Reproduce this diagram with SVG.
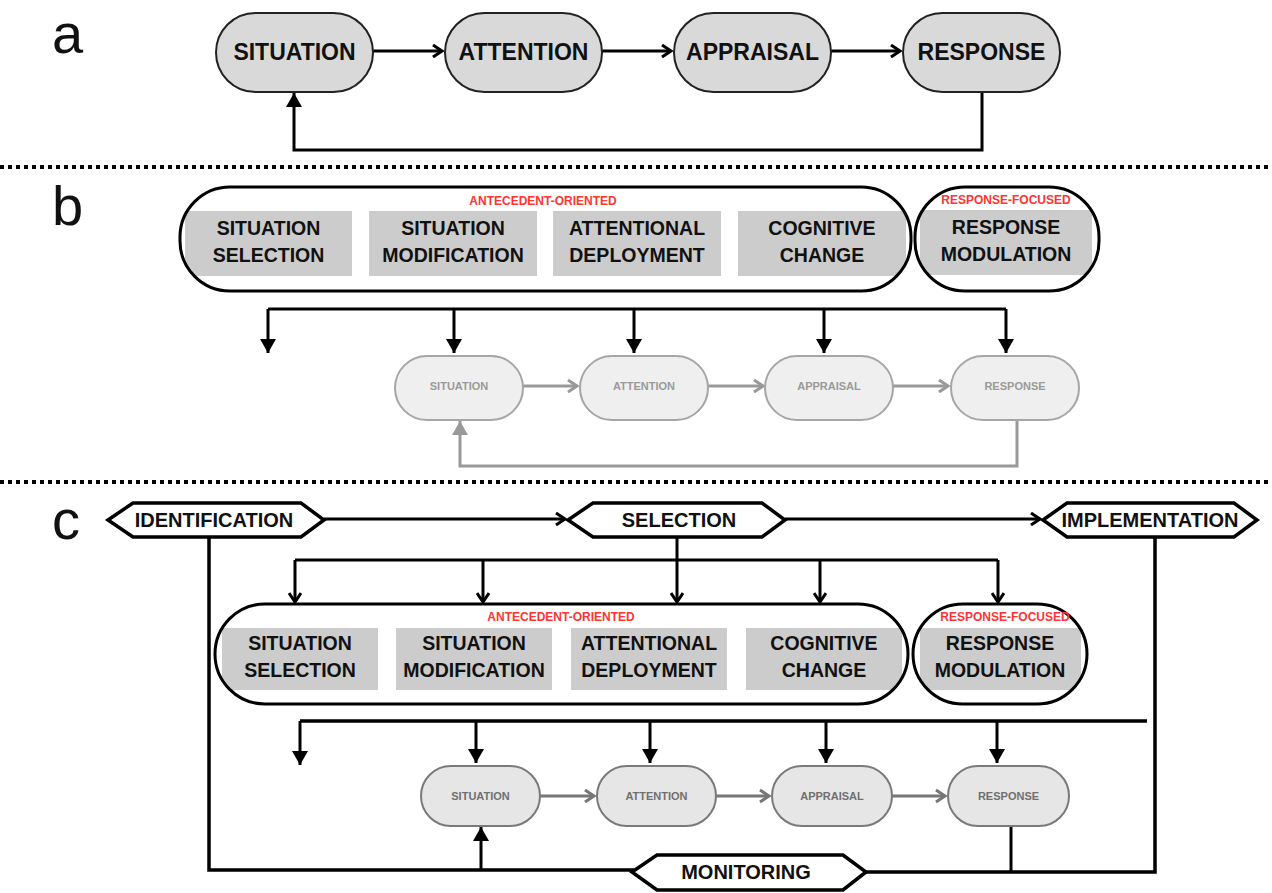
<svg xmlns="http://www.w3.org/2000/svg" width="1272" height="893" viewBox="0 0 1272 893">
  <style>
    text { font-family: "Liberation Sans", Arial, sans-serif; }
    .panel { font-size: 56px; fill: #111; }
    .nodeA { fill: #d9d9d9; stroke: #222; stroke-width: 2; }
    .tA { font-size: 23px; font-weight: bold; fill: #111; text-anchor: middle; }
    .frame { fill: none; stroke: #000; stroke-width: 3; }
    .box { fill: #cccccc; }
    .tBox { font-size: 19.5px; font-weight: bold; fill: #111; text-anchor: middle; }
    .red { font-size: 12px; font-weight: bold; fill: #ff3333; text-anchor: middle; }
    .nodeB { fill: #efefef; stroke: #a6a6a6; stroke-width: 2; }
    .tB { font-size: 11px; font-weight: bold; fill: #9a9a9a; text-anchor: middle; }
    .nodeC { fill: #e6e6e6; stroke: #7a7a7a; stroke-width: 2; }
    .tC { font-size: 11px; font-weight: bold; fill: #707070; text-anchor: middle; }
    .hex { fill: #fff; stroke: #000; stroke-width: 3.5; stroke-linejoin: miter; }
    .tHex { font-size: 20px; font-weight: bold; fill: #111; text-anchor: middle; }
    .wire { fill: none; stroke: #000; stroke-width: 3; }
    .wireG { fill: none; stroke: #999; stroke-width: 3; }
    .wireC { fill: none; stroke: #777; stroke-width: 3; }
    .sep { stroke: #000; stroke-width: 4; stroke-dasharray: 4 4; }
  </style>
  <defs>
    <marker id="chev" markerUnits="userSpaceOnUse" viewBox="0 0 12 14" refX="10" refY="7" markerWidth="12" markerHeight="14" orient="auto">
      <path d="M1,1 L10,7 L1,13" fill="none" stroke="#000" stroke-width="3"/>
    </marker>
    <marker id="tri" markerUnits="userSpaceOnUse" viewBox="0 0 14 16" refX="14" refY="8" markerWidth="14" markerHeight="16" orient="auto">
      <path d="M0,0 L14,8 L0,16 z" fill="#000"/>
    </marker>
    <marker id="chevG" markerUnits="userSpaceOnUse" viewBox="0 0 12 14" refX="10" refY="7" markerWidth="12" markerHeight="14" orient="auto">
      <path d="M1,1 L10,7 L1,13" fill="none" stroke="#999" stroke-width="3"/>
    </marker>
    <marker id="triG" markerUnits="userSpaceOnUse" viewBox="0 0 14 16" refX="14" refY="8" markerWidth="14" markerHeight="16" orient="auto">
      <path d="M0,0 L14,8 L0,16 z" fill="#999"/>
    </marker>
    <marker id="chevC" markerUnits="userSpaceOnUse" viewBox="0 0 12 14" refX="10" refY="7" markerWidth="12" markerHeight="14" orient="auto">
      <path d="M1,1 L10,7 L1,13" fill="none" stroke="#777" stroke-width="3"/>
    </marker>
    <clipPath id="clipB1"><rect x="180" y="187" width="731" height="104" rx="50"/></clipPath>
    <clipPath id="clipB2"><rect x="915" y="187" width="184" height="104" rx="50"/></clipPath>
    <clipPath id="clipC1"><rect x="215" y="604" width="693" height="100" rx="50"/></clipPath>
    <clipPath id="clipC2"><rect x="913" y="604" width="174" height="100" rx="50"/></clipPath>
  </defs>

  <!-- panel letters and separators -->
  <g id="labels">
    <text class="panel" x="52" y="53">a</text>
    <text class="panel" x="52" y="225">b</text>
    <text class="panel" x="52" y="539">c</text>
    <line class="sep" x1="0" y1="167" x2="1272" y2="167"/>
    <line class="sep" x1="0" y1="482" x2="1272" y2="482"/>
  </g>

  <!-- connectors -->
  <g id="connectors">
    <!-- a -->
    <path class="wire" d="M373,51 H442" marker-end="url(#chev)"/>
    <path class="wire" d="M602,51 H671" marker-end="url(#chev)"/>
    <path class="wire" d="M831,51 H900" marker-end="url(#chev)"/>
    <path class="wire" d="M982,92 V150 H294 V93" marker-end="url(#tri)"/>
    <!-- b -->
    <path class="wire" d="M268,309 H1006"/>
    <path class="wire" d="M268,309 V353" marker-end="url(#tri)"/>
    <path class="wire" d="M454,309 V353" marker-end="url(#tri)"/>
    <path class="wire" d="M634,309 V353" marker-end="url(#tri)"/>
    <path class="wire" d="M824,309 V353" marker-end="url(#tri)"/>
    <path class="wire" d="M1006,309 V353" marker-end="url(#tri)"/>
    <path class="wireG" d="M523,386 H577" marker-end="url(#chevG)"/>
    <path class="wireG" d="M708,386 H763" marker-end="url(#chevG)"/>
    <path class="wireG" d="M893,386 H948" marker-end="url(#chevG)"/>
    <path class="wireG" d="M1017,420 V466 H460 V421" marker-end="url(#triG)"/>
    <!-- c -->
    <path class="wire" d="M324,519 H565" marker-end="url(#chev)"/>
    <path class="wire" d="M785,519 H1040" marker-end="url(#chev)"/>
    <path class="wire" d="M677,537 V602" marker-end="url(#chev)"/>
    <path class="wire" d="M295,560 H998"/>
    <path class="wire" d="M295,560 V602" marker-end="url(#chev)"/>
    <path class="wire" d="M483,560 V602" marker-end="url(#chev)"/>
    <path class="wire" d="M820,560 V602" marker-end="url(#chev)"/>
    <path class="wire" d="M998,560 V602" marker-end="url(#chev)"/>
    <path class="wire" d="M300,721 H1147" style="stroke-width:3.5"/>
    <path class="wire" d="M300,721 V765" marker-end="url(#tri)"/>
    <path class="wire" d="M476,721 V763" marker-end="url(#tri)"/>
    <path class="wire" d="M650,721 V763" marker-end="url(#tri)"/>
    <path class="wire" d="M826,721 V763" marker-end="url(#tri)"/>
    <path class="wire" d="M997,721 V763" marker-end="url(#tri)"/>
    <path class="wireC" d="M540,796 H594" marker-end="url(#chevC)"/>
    <path class="wireC" d="M716,796 H769" marker-end="url(#chevC)"/>
    <path class="wireC" d="M892,796 H945" marker-end="url(#chevC)"/>
    <path class="wire" d="M209,537 V870 H634" style="stroke-width:3.5"/>
    <path class="wire" d="M866,872 H1155 V537" style="stroke-width:3.5"/>
    <path class="wire" d="M1011,826 V872"/>
    <path class="wire" d="M481,870 V827" marker-end="url(#tri)"/>
  </g>

  <!-- panel a: process model -->
  <g id="a-situation"><rect class="nodeA" x="216" y="13" width="157" height="79" rx="39.5"/><text class="tA" x="294.5" y="59.5">SITUATION</text></g>
  <g id="a-attention"><rect class="nodeA" x="445" y="13" width="157" height="79" rx="39.5"/><text class="tA" x="523.5" y="59.5">ATTENTION</text></g>
  <g id="a-appraisal"><rect class="nodeA" x="674" y="13" width="157" height="79" rx="39.5"/><text class="tA" x="752.5" y="59.5">APPRAISAL</text></g>
  <g id="a-response"><rect class="nodeA" x="903" y="13" width="157" height="79" rx="39.5"/><text class="tA" x="981.5" y="59.5">RESPONSE</text></g>

  <!-- panel b: regulation families -->
  <g id="b-antecedent">
    <g clip-path="url(#clipB1)">
      <rect class="box" x="185" y="211" width="167" height="65"/>
      <rect class="box" x="369" y="211" width="168" height="65"/>
      <rect class="box" x="553" y="211" width="168" height="65"/>
      <rect class="box" x="738" y="211" width="168" height="65"/>
    </g>
    <rect class="frame" x="180" y="187" width="731" height="104" rx="50"/>
    <text class="red" x="543" y="205">ANTECEDENT-ORIENTED</text>
    <text class="tBox" x="268.5" y="235">SITUATION</text><text class="tBox" x="268.5" y="262">SELECTION</text>
    <text class="tBox" x="453" y="235">SITUATION</text><text class="tBox" x="453" y="262">MODIFICATION</text>
    <text class="tBox" x="637" y="235">ATTENTIONAL</text><text class="tBox" x="637" y="262">DEPLOYMENT</text>
    <text class="tBox" x="822" y="235">COGNITIVE</text><text class="tBox" x="822" y="262">CHANGE</text>
  </g>
  <g id="b-response-focused">
    <g clip-path="url(#clipB2)"><rect class="box" x="920" y="210" width="172" height="65"/></g>
    <rect class="frame" x="915" y="187" width="184" height="104" rx="50"/>
    <text class="red" x="1006" y="204">RESPONSE-FOCUSED</text>
    <text class="tBox" x="1006" y="234">RESPONSE</text><text class="tBox" x="1006" y="261">MODULATION</text>
  </g>
  <g id="b-situation"><rect class="nodeB" x="395" y="356" width="128" height="64" rx="32"/><text class="tB" x="459" y="390">SITUATION</text></g>
  <g id="b-attention"><rect class="nodeB" x="580" y="356" width="128" height="64" rx="32"/><text class="tB" x="644" y="390">ATTENTION</text></g>
  <g id="b-appraisal"><rect class="nodeB" x="765" y="356" width="128" height="64" rx="32"/><text class="tB" x="829" y="390">APPRAISAL</text></g>
  <g id="b-response"><rect class="nodeB" x="951" y="356" width="128" height="64" rx="32"/><text class="tB" x="1015" y="390">RESPONSE</text></g>

  <!-- panel c: valuation stages -->
  <g id="c-identification"><polygon class="hex" points="108,520 133,503 301,503 324,520 301,537 133,537"/><text class="tHex" x="214" y="527">IDENTIFICATION</text></g>
  <g id="c-selection"><polygon class="hex" points="568,520 593,503 762,503 785,520 762,537 593,537"/><text class="tHex" x="679" y="527">SELECTION</text></g>
  <g id="c-implementation"><polygon class="hex" points="1043,520 1067,503 1234,503 1257,520 1234,537 1067,537"/><text class="tHex" x="1150" y="527">IMPLEMENTATION</text></g>
  <g id="c-monitoring"><polygon class="hex" points="632,872 657,855 843,855 866,872 843,890 657,890"/><text class="tHex" x="746" y="879">MONITORING</text></g>

  <g id="c-antecedent">
    <g clip-path="url(#clipC1)">
      <rect class="box" x="222" y="628" width="156" height="62"/>
      <rect class="box" x="396" y="628" width="156" height="62"/>
      <rect class="box" x="571" y="628" width="156" height="62"/>
      <rect class="box" x="746" y="628" width="156" height="62"/>
    </g>
    <rect class="frame" x="215" y="604" width="693" height="100" rx="50"/>
    <text class="red" x="561" y="621">ANTECEDENT-ORIENTED</text>
    <text class="tBox" x="300" y="650">SITUATION</text><text class="tBox" x="300" y="677">SELECTION</text>
    <text class="tBox" x="474" y="650">SITUATION</text><text class="tBox" x="474" y="677">MODIFICATION</text>
    <text class="tBox" x="649" y="650">ATTENTIONAL</text><text class="tBox" x="649" y="677">DEPLOYMENT</text>
    <text class="tBox" x="824" y="650">COGNITIVE</text><text class="tBox" x="824" y="677">CHANGE</text>
  </g>
  <g id="c-response-focused">
    <g clip-path="url(#clipC2)"><rect class="box" x="920" y="628" width="161" height="62"/></g>
    <rect class="frame" x="913" y="604" width="174" height="100" rx="50"/>
    <text class="red" x="1005" y="621">RESPONSE-FOCUSED</text>
    <text class="tBox" x="1000" y="650">RESPONSE</text><text class="tBox" x="1000" y="677">MODULATION</text>
  </g>
  <g id="c-situation"><rect class="nodeC" x="421" y="766" width="119" height="60" rx="30"/><text class="tC" x="480.5" y="800">SITUATION</text></g>
  <g id="c-attention"><rect class="nodeC" x="597" y="766" width="119" height="60" rx="30"/><text class="tC" x="656.5" y="800">ATTENTION</text></g>
  <g id="c-appraisal"><rect class="nodeC" x="772" y="766" width="120" height="60" rx="30"/><text class="tC" x="832" y="800">APPRAISAL</text></g>
  <g id="c-response"><rect class="nodeC" x="948" y="766" width="121" height="60" rx="30"/><text class="tC" x="1008.5" y="800">RESPONSE</text></g>
</svg>
